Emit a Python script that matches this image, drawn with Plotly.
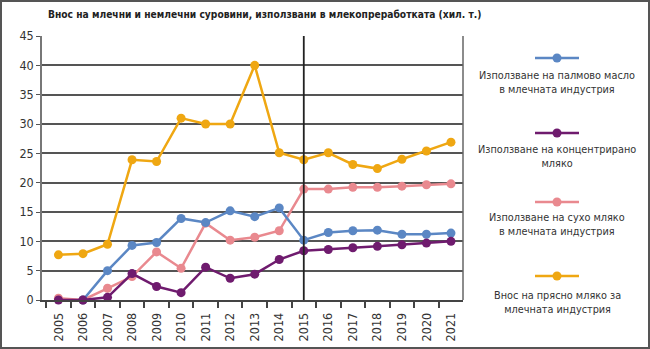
import plotly.graph_objects as go

years = [str(y) for y in range(2005, 2022)]
palm_oil = [None, 0.0, 5.0, 9.3, 9.8, 13.9, 13.2, 15.2, 14.2, 15.7, 10.2, 11.5, 11.8, 11.9, 11.2, 11.2, 11.4]
concentrated = [0.0, 0.0, 0.45, 4.5, 2.3, 1.25, 5.6, 3.7, 4.4, 6.9, 8.4, 8.6, 8.9, 9.15, 9.4, 9.7, 10.0]
dry_milk = [0.3, 0.0, 2.0, 4.0, 8.2, 5.4, 13.1, 10.2, 10.7, 11.8, 18.9, 18.9, 19.2, 19.2, 19.4, 19.65, 19.8]
fresh_milk = [7.7, 7.9, 9.5, 23.9, 23.6, 31.0, 30.0, 30.0, 40.0, 25.1, 23.9, 25.1, 23.1, 22.4, 24.0, 25.4, 26.9]

series_names = [
    "Използване на палмово масло<br>в млечната индустрия",
    "Използване на концентрирано<br>мляко",
    "Използване на сухо мляко<br>в млечната индустрия",
    "Внос на прясно мляко за<br>млечната индустрия",
]
series_values = [palm_oil, concentrated, dry_milk, fresh_milk]
colors = ["#5B87C4", "#6F1B6E", "#E9898F", "#EFA712"]
y_ticks = [0, 5, 10, 15, 20, 25, 30, 35, 40, 45]
title = "Внос на млечни и немлечни суровини, използвани в млекопреработката (хил. т.)"

W, H = 650, 349
L, R, T, B = 42, 187, 36, 49
PW, PH = W - L - R, H - T - B

def px(x):
    return (x - L) / PW

def py(y):
    return (H - B - y) / PH

fig = go.Figure()
for i in [3, 2, 0, 1]:
    fig.add_trace(go.Scatter(
        x=years, y=series_values[i], mode="lines+markers",
        line=dict(color=colors[i], width=2.5),
        marker=dict(color=colors[i], size=9),
        name=series_names[i], showlegend=False, cliponaxis=False,
        connectgaps=False,
    ))

font_n = "DejaVu Sans Condensed, Liberation Sans Narrow, sans-serif"

fig.update_layout(
    width=W, height=H,
    margin=dict(l=L, r=R, t=T, b=B, autoexpand=False),
    paper_bgcolor="white", plot_bgcolor="white",
    font=dict(family=font_n, size=11, color="#333"),
    showlegend=False,
    xaxis=dict(
        type="category", range=[-0.67, 16.49], tickson="boundaries",
        ticks="outside", ticklen=6, tickcolor="#444", tickwidth=1.5,
        tickangle=-90, showgrid=False, zeroline=False,
        showline=True, linecolor="#444", linewidth=1.5,
        ticklabelstandoff=6, automargin=False,
        tickfont=dict(family=font_n, size=12.5, color="#333"),
        fixedrange=True,
    ),
    yaxis=dict(
        range=[0, 45], tickvals=y_ticks, ticks="outside", ticklen=4,
        tickcolor="#555", tickwidth=1.2, automargin=False,
        showgrid=True, gridcolor="#555", gridwidth=1.5,
        zeroline=False, showline=True, linecolor="#777", linewidth=1.5,
        tickfont=dict(family=font_n, size=12.5, color="#333"),
        fixedrange=True,
    ),
)

shapes = []
shapes.append(dict(type="line", xref="x", yref="paper", x0=10, x1=10, y0=0, y1=1,
                   line=dict(color="#222", width=1.8)))
shapes.append(dict(type="line", xref="paper", yref="paper", x0=1, x1=1, y0=0, y1=1,
                   line=dict(color="#666", width=1.5)))
shapes.append(dict(type="rect", xref="paper", yref="paper",
                   x0=px(1), x1=px(W - 1), y0=py(H - 1), y1=py(1),
                   line=dict(color="#555", width=2)))

legend_sym_y = [58, 133, 202, 276]
legend_txt_y = [82.5, 156, 224.5, 302]
cx = 557
for i in range(4):
    sy = py(legend_sym_y[i])
    shapes.append(dict(type="line", xref="paper", yref="paper",
                       x0=px(535), x1=px(579), y0=sy, y1=sy,
                       line=dict(color=colors[i], width=2.5)))
    shapes.append(dict(type="circle", xref="paper", yref="paper",
                       xsizemode="pixel", ysizemode="pixel",
                       xanchor=px(cx), yanchor=sy,
                       x0=-4.5, x1=4.5, y0=-4.5, y1=4.5,
                       fillcolor=colors[i], line=dict(color=colors[i], width=0)))
    fig.add_annotation(xref="paper", yref="paper", x=px(cx), y=py(legend_txt_y[i]),
                       text=series_names[i], showarrow=False, align="center",
                       xanchor="center", yanchor="middle",
                       font=dict(family=font_n, size=10.8, color="#333"))

fig.update_layout(shapes=shapes)

fig.add_annotation(xref="paper", yref="paper", x=px(264), y=py(15),
                   text="<b>" + title + "</b>", showarrow=False,
                   xanchor="center", yanchor="middle",
                   font=dict(family=font_n, size=10.2, color="#222"))

fig.write_html("out.html")
